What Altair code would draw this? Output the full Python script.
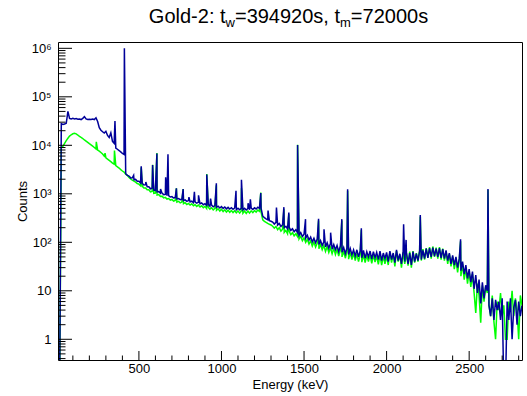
import altair as alt
import pandas as pd

# ---------------- data ----------------
E_START = 10      # keV, first bin
E_STEP = 10       # keV, bin width

# Blue spectrum (Gold-2 measurement), counts per bin, continuum
BLUE = [
    0.1, 0.1, 28000, 27000, 27500, 28500, 50000, 36000, 35000, 36000,
    35000, 35500, 34500, 35000, 34000, 36000, 39000, 35000, 34000, 34500,
    34000, 35000, 34000, 37000, 31000, 23000, 20500, 19000, 18000, 19500,
    16000, 14500, 18000, 12000, 11000, 8800, 8300, 7800, 7300, 6800,
    6500, 2600, 2400, 2320, 2130, 2140, 1960, 1980, 1820, 1810,
    1670, 1660, 1520, 1540, 1400, 1400, 1270, 1300, 1190, 1180,
    1100, 1110, 1030, 1030, 960, 970, 910, 915, 860, 875,
    820, 835, 785, 800, 755, 770, 725, 750, 700, 725,
    680, 705, 655, 685, 640, 665, 620, 650, 595, 625,
    575, 605, 555, 585, 540, 570, 525, 555, 510, 545,
    500, 535, 490, 525, 485, 515, 480, 510, 470, 505,
    468, 502, 465, 500, 462, 498, 468, 505, 475, 515,
    488, 530, 500, 500, 345, 322, 305, 292, 280, 272,
    262, 238, 258, 226, 244, 212, 230, 200, 214, 190,
    204, 176, 190, 166, 182, 160, 140, 158, 132, 146,
    122, 140, 112, 128, 102, 121, 98, 116, 90, 108,
    86, 102, 80, 98, 76, 94, 72, 90, 70, 86,
    64, 84, 62, 78, 58, 76, 56, 74, 55, 70,
    52, 70, 50, 66, 48, 68, 47, 64, 50, 66,
    45, 64, 48, 62, 44, 66, 42, 60, 46, 62,
    40, 66, 44, 60, 38, 70, 42, 58, 36, 64,
    40, 62, 36, 60, 34, 64, 40, 58, 42, 66,
    44, 68, 46, 74, 48, 76, 50, 78, 52, 74,
    50, 76, 48, 72, 46, 68, 42, 60, 36, 54,
    34, 50, 30, 46, 26, 40, 22, 34, 18, 28,
    15, 25, 11, 21, 9, 17, 5.5, 15, 7, 13,
    10, 5, 3, 7, 2.5, 6.5, 4, 6, 2.5, 7,
    0.1, 0.1, 6, 2.5, 7, 1, 4.5, 6.5, 2, 6,
    3, 5,
]

# Blue spectrum peaks: energy (keV) and height (counts)
BLUE_PEAK_E = [355, 412, 468, 514, 542, 583, 609, 631, 662, 676, 727, 768, 803,
               836, 861, 911, 934, 969, 1088, 1121, 1161, 1175, 1238, 1282, 1333,
               1378, 1408, 1461, 1509, 1588, 1621, 1661, 1729, 1764, 1847, 2103,
               2118, 2204, 2448, 2614]
BLUE_PEAK_N = [31500, 1000000, 2400, 3700, 1750, 3900, 6800, 1250, 2200, 6500, 1300,
               1250, 850, 1100, 930, 2500, 800, 1650, 1150, 1950, 640, 770, 1040,
               450, 520, 530, 410, 10100, 300, 305, 185, 158, 300, 1240, 195, 235,
               112, 365, 115, 1250]

# Green spectrum (background), counts per bin, continuum
GREEN = [
    0.1, 0.1, 8800, 9500, 11000, 12500, 14000, 15500, 16500, 17300,
    17700, 17200, 16300, 15300, 14500, 13800, 12900, 12200, 11500, 10800,
    10200, 9600, 9000, 8400, 8000, 7600, 7100, 6600, 6000, 5500,
    5200, 4900, 4600, 4300, 4100, 3800, 3600, 3400, 3150, 2950,
    2800, 2550, 2400, 2170, 2030, 1920, 1830, 1740, 1630, 1580,
    1460, 1440, 1320, 1320, 1210, 1210, 1100, 1120, 1020, 1030,
    945, 965, 885, 895, 825, 845, 780, 800, 740, 765,
    705, 730, 675, 700, 650, 675, 625, 655, 600, 635,
    585, 620, 565, 600, 550, 585, 535, 565, 515, 550,
    495, 530, 480, 515, 465, 500, 455, 490, 440, 480,
    430, 468, 422, 460, 415, 452, 410, 448, 405, 445,
    400, 442, 398, 440, 395, 440, 400, 445, 408, 452,
    420, 462, 435, 420, 290, 270, 258, 245, 235, 228,
    214, 196, 212, 182, 200, 170, 186, 160, 176, 150,
    168, 144, 158, 136, 150, 132, 118, 134, 108, 124,
    100, 116, 92, 108, 84, 102, 80, 96, 74, 90,
    70, 86, 65, 82, 62, 78, 58, 75, 56, 72,
    52, 70, 50, 66, 47, 64, 45, 62, 44, 60,
    42, 58, 40, 56, 39, 56, 38, 54, 40, 55,
    37, 54, 39, 52, 35, 55, 34, 52, 36, 52,
    34, 62, 38, 58, 32, 66, 40, 56, 30, 62,
    36, 60, 33, 64, 30, 66, 38, 60, 40, 68,
    42, 72, 44, 76, 48, 80, 46, 82, 50, 78,
    46, 80, 44, 74, 42, 66, 36, 58, 32, 50,
    28, 46, 24, 42, 20, 36, 17, 30, 14, 25,
    12, 22, 9, 3.5, 14, 8, 2.2, 13, 6, 12,
    9, 5, 3, 8, 2.3, 1, 6, 4, 9, 3,
    5, 1, 1, 6, 4, 10, 3, 7, 4, 1,
    8, 5,
]

GREEN_PEAK_E = [242, 295, 352, 514, 583, 609, 727, 768, 911, 969, 1121, 1238, 1378,
                1408, 1461, 1588, 1729, 1764, 1847, 2204, 2448, 2614]
GREEN_PEAK_N = [11800, 6900, 7800, 3500, 3950, 6900, 1300, 1250, 2550, 1500, 1300,
                1060, 480, 380, 10300, 280, 280, 1150, 180, 340, 105, 1200]

# axis ticks
X_MAJOR = [500, 1000, 1500, 2000, 2500]
X_MINOR = [100, 200, 300, 400, 600, 700, 800, 900, 1100, 1200, 1300, 1400, 1600,
           1700, 1800, 1900, 2100, 2200, 2300, 2400, 2600, 2700, 2800]
Y_MAJOR = [1, 10, 100, 1000, 10000, 100000, 1000000]
Y_MINOR = [m * 10.0 ** k for k in range(-1, 6) for m in range(2, 10)]
Y_MINOR = [v for v in Y_MINOR if 0.374 <= v <= 1.35e6]

TITLE_PARTS = ["Gold-2: t", "w", "=394920s, t", "m", "=72000s"]


def table(vals, pe, pn, name):
    rows = [{"E": E_START + E_STEP * i, "N": v, "s": name} for i, v in enumerate(vals)]
    rows += [{"E": e, "N": n, "s": name} for e, n in zip(pe, pn)]
    return pd.DataFrame(rows).sort_values("E", kind="stable").reset_index(drop=True)


blue_df = table(BLUE, BLUE_PEAK_E, BLUE_PEAK_N, "blue")
green_df = table(GREEN, GREEN_PEAK_E, GREEN_PEAK_N, "green")

FONT = "Liberation Sans"
W, H = 464, 318

xs = alt.Scale(domain=[10, 2820], nice=False, zero=False)
ys = alt.Scale(type="log", domain=[0.374, 1.35e6], nice=False)

label_expr = ("datum.value==1?'1':datum.value==10?'10':datum.value==100?'10\u00b2':"
              "datum.value==1000?'10\u00b3':datum.value==10000?'10\u2074':"
              "datum.value==100000?'10\u2075':'10\u2076'")

x_axis = alt.Axis(values=X_MAJOR, format="d", title="Energy (keV)", ticks=False,
                  domain=False, grid=False, labelFont=FONT, labelFontSize=13,
                  labelColor="black", labelPadding=2, titleFont=FONT, titleFontSize=13,
                  titleFontWeight="normal", titleColor="black", titleY=18,
                  titleBaseline="top", titleAnchor="middle")
y_axis = alt.Axis(values=Y_MAJOR, title="Counts", ticks=False, domain=False,
                  grid=False, labelFont=FONT, labelFontSize=13, labelColor="black",
                  labelPadding=7, labelExpr=label_expr, titleFont=FONT,
                  titleFontSize=13, titleFontWeight="normal", titleColor="black",
                  titleAngle=-90, titleX=-32, titleY=H / 2,
                  titleBaseline="alphabetic", titleAlign="center")

green = alt.Chart(green_df).mark_line(color="#00ff00", strokeWidth=1.5, clip=True).encode(
    x=alt.X("E:Q", scale=xs, axis=x_axis),
    y=alt.Y("N:Q", scale=ys, axis=y_axis),
)
blue = alt.Chart(blue_df).mark_line(color="#000099", strokeWidth=1.5, clip=True).encode(
    x=alt.X("E:Q", scale=xs, axis=x_axis),
    y=alt.Y("N:Q", scale=ys, axis=y_axis),
)


def yticks(vals, length):
    return alt.Chart(pd.DataFrame({"N": vals})).mark_rule(color="black", strokeWidth=1).encode(
        y=alt.Y("N:Q", scale=ys, axis=y_axis), x=alt.value(0), x2=alt.value(length))


def xticks(vals, length):
    return alt.Chart(pd.DataFrame({"E": vals})).mark_rule(color="black", strokeWidth=1).encode(
        x=alt.X("E:Q", scale=xs, axis=x_axis), y=alt.value(H), y2=alt.value(H - length))


# title pieces with subscripts (Arial/Liberation advance widths, 1/1000 em)
ADV = {"G": 778, "o": 556, "l": 222, "d": 556, "-": 333, ":": 278, " ": 278, "t": 278,
       "w": 722, "m": 833, "=": 584, "s": 500, ",": 278}
MAIN, SUB = 20, 13


def width(txt, size):
    return sum(ADV.get(c, 556) for c in txt) * size / 1000.0


sizes = [MAIN, SUB, MAIN, SUB, MAIN]
total = sum(width(t, s) for t, s in zip(TITLE_PARTS, sizes))
x0 = 230.5 - total / 2
title_layers = []
for txt, s in zip(TITLE_PARTS, sizes):
    yb = -19.5 if s == MAIN else -15.0
    title_layers.append(
        alt.Chart(alt.Data(values=[{}])).mark_text(
            align="left", baseline="alphabetic", font=FONT, fontSize=s, color="black"
        ).encode(x=alt.value(x0), y=alt.value(yb), text=alt.value(txt))
    )
    x0 += width(txt, s)

chart = alt.layer(
    green, blue,
    yticks(Y_MAJOR, 14), yticks(Y_MINOR, 7.5),
    xticks(X_MAJOR, 9), xticks(X_MINOR, 4.5),
    *title_layers,
).properties(
    width=W, height=H,
    autosize=alt.AutoSizeParams(type="none"),
    padding={"left": 58, "top": 42, "right": 5, "bottom": 36},
    background="white",
).configure_view(stroke="black", strokeWidth=1)

chart.save("out.html", embed_options={"renderer": "svg", "actions": False})
